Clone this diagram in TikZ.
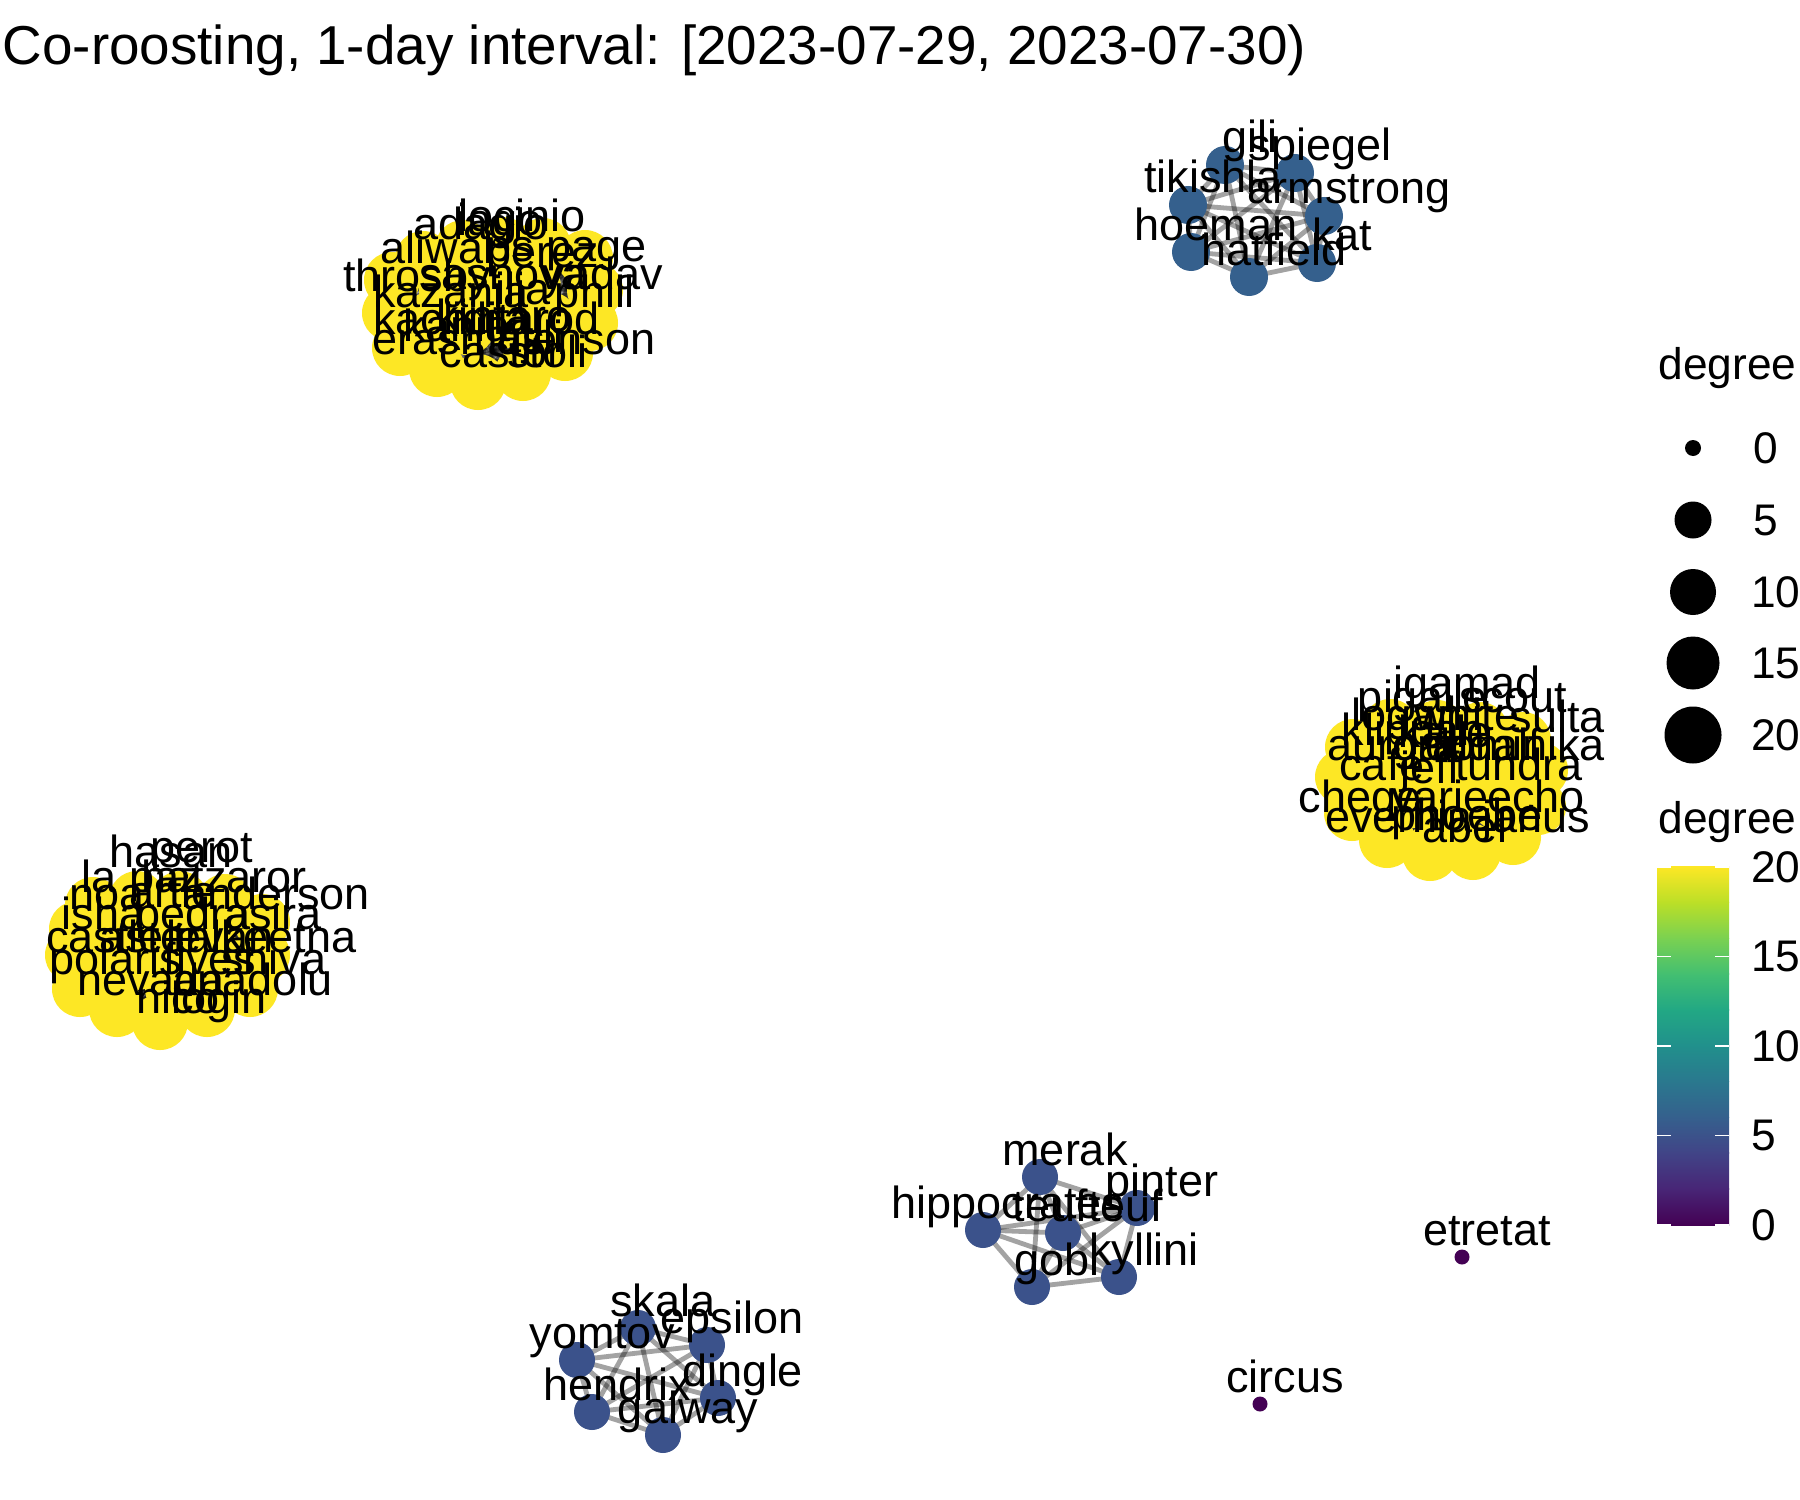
\documentclass[tikz,border=0pt]{standalone}
\usepackage{fontspec}
\setmainfont{Liberation Sans}
\usetikzlibrary{calc}
\pgfdeclarelayer{paper}
\pgfdeclarelayer{bg}
\pgfsetlayers{paper,bg,main}
\definecolor{v0}{HTML}{440154}
\definecolor{v1}{HTML}{482576}
\definecolor{v2}{HTML}{414487}
\definecolor{v3}{HTML}{35608D}
\definecolor{v4}{HTML}{2A788E}
\definecolor{v5}{HTML}{21908C}
\definecolor{v6}{HTML}{22A884}
\definecolor{v7}{HTML}{43BF71}
\definecolor{v8}{HTML}{7AD151}
\definecolor{v9}{HTML}{BBDF27}
\definecolor{v10}{HTML}{FDE725}
\definecolor{vdeg5}{HTML}{3B528B}
\newcommand\lblfont{\fontsize{12.8pt}{15pt}\selectfont}
\newcommand\legfont{\fontsize{12.6pt}{15pt}\selectfont}
\newcommand\ttlfont{\fontsize{15.6pt}{18pt}\selectfont}
\begin{document}
\begin{tikzpicture}[x=0.1mm,y=-0.1mm,
  lbl/.style={font=\lblfont, anchor=base, inner sep=0pt, outer sep=0pt},
  legtxt/.style={font=\legfont, anchor=west, inner sep=0pt, outer sep=0pt},
  ynode/.style={circle, fill=v10, minimum size=5.6mm, inner sep=0pt, outer sep=0pt},
  bnodesix/.style={circle, fill=v3, minimum size=3.8mm, inner sep=0pt, outer sep=0pt},
  bnodefive/.style={circle, fill=vdeg5, minimum size=3.6mm, inner sep=0pt, outer sep=0pt},
  pnode/.style={circle, fill=v0, minimum size=1.5mm, inner sep=0pt, outer sep=0pt},
  keydot/.style={circle, fill=black, inner sep=0pt, outer sep=0pt},
  edge/.style={draw=black, draw opacity=0.36, line width=0.48mm}]
\useasboundingbox (0,0) rectangle (1800,1500);
\begin{pgfonlayer}{paper}
\fill[white] (0,0) rectangle (1800,1500);
\end{pgfonlayer}

% title
\node[font=\ttlfont, anchor=base west, inner sep=0pt] (title) at (2,65) {Co-roosting, 1-day interval: [2023-07-29, 2023-07-30)};

% ---- yellow cluster A ----
\foreach \x/\y [count=\n] in {463/248,503/245,543/246,585/258,595/290,590/323,565/353,523/373,478/382,437/369,400/348,390/313,392/280,423/259,447/290,490/280,533/287,550/320,510/320,467/327,430/320}
  \node[ynode] (a\n) at (\x,\y) {};
% ---- yellow cluster B ----
\foreach \x/\y [count=\n] in {1390/727,1437/728,1480/730,1523/740,1540/770,1538/807,1513/837,1473/852,1430/853,1387/840,1352/813,1343/777,1353/747,1397/760,1440/760,1487/767,1500/803,1460/803,1413/800,1380/793,1447/827}
  \node[ynode] (b\n) at (\x,\y) {};
% ---- yellow cluster C ----
\foreach \x/\y [count=\n] in {93/905,137/899,180/899,225/902,262/922,262/955,250/989,207/1009,160/1022,117/1009,80/989,73/955,77/929,117/929,160/925,207/929,222/962,180/962,137/962,107/962,173/989}
  \node[ynode] (c\n) at (\x,\y) {};

% ---- blue cluster top right ----
\node[bnodesix] (t1) at (1225,165) {};
\node[bnodesix] (t2) at (1295,173) {};
\node[bnodesix] (t3) at (1188,205) {};
\node[bnodesix] (t4) at (1324,216) {};
\node[bnodesix] (t5) at (1191,252) {};
\node[bnodesix] (t6) at (1317,263) {};
\node[bnodesix] (t7) at (1249,277) {};
% ---- blue cluster bottom middle ----
\node[bnodefive] (m1) at (1040,1177) {};
\node[bnodefive] (m2) at (1137,1208) {};
\node[bnodefive] (m3) at (983,1230) {};
\node[bnodefive] (m4) at (1063,1233) {};
\node[bnodefive] (m5) at (1032,1287) {};
\node[bnodefive] (m6) at (1119,1277) {};
% ---- blue cluster bottom left ----
\node[bnodefive] (s1) at (638,1328) {};
\node[bnodefive] (s2) at (707,1345) {};
\node[bnodefive] (s3) at (577,1360) {};
\node[bnodefive] (s4) at (718,1398) {};
\node[bnodefive] (s5) at (592,1412) {};
\node[bnodefive] (s6) at (663,1435) {};
% ---- isolated ----
\node[pnode] (e1) at (1462,1257) {};
\node[pnode] (e2) at (1260,1404) {};

% ---- edges ----
\begin{pgfonlayer}{bg}
\foreach \i in {1,...,20}{
  \pgfmathtruncatemacro\k{\i+1}
  \foreach \j in {\k,...,21}{
    \draw[edge] (a\i.center) -- (a\j.center);
    \draw[edge] (b\i.center) -- (b\j.center);
    \draw[edge] (c\i.center) -- (c\j.center);
  }}
\foreach \i in {1,...,6}{
  \pgfmathtruncatemacro\k{\i+1}
  \foreach \j in {\k,...,7}{\draw[edge] (t\i.center) -- (t\j.center);}}
\foreach \i in {1,...,5}{
  \pgfmathtruncatemacro\k{\i+1}
  \foreach \j in {\k,...,6}{\draw[edge] (m\i.center) -- (m\j.center); \draw[edge] (s\i.center) -- (s\j.center);}}
\end{pgfonlayer}

% ---- labels cluster A ----
\foreach \x/\y/\t [count=\n] in {481/235/adagio,522/227/locinio,500/232/iago,437/260/aliwal,567/258/ps page,543/263/perez,417/287/throsby,503/285/sasnova,603/285/yadav,451/303/kazania,595/303/phill,523/300/ilja,451/330/kachina,504/327/kintaro,526/330/iditarod,457/337/kania,459/350/erasmus,589/350/jenson,530/348/atili,501/363/castor,547/363/stoli}
  \node[lbl] (la\n) at (\x,{\y+4}) {\t};
% ---- labels cluster B ----
\foreach \x/\y/\t [count=\n] in {1467/693/igamad,1423/707/pigalle,1513/707/scout,1407/725/logan,1467/725/white,1557/727/sulta,1413/740/klippan,1445/742/kalle,1392/755/aurora,1467/755/gandalf,1515/755/dominika,1382/775/cafe,1430/778/jeff,1519/775/tundra,1360/807/chege,1440/807/varie,1536/807/echo,1399/827/evernia,1467/825/phoebe,1536/827/janus,1465/837/abel}
  \node[lbl] (lb\n) at (\x,{\y+5}) {\t};
% ---- labels cluster C ----
\foreach \x/\y/\t [count=\n] in {171/860/hasan,202/855/perot,142/885/la paz,224/885/hatzaror,107/902/noa,173/900/artie,276/902/anderson,103/922/isha,193/922/pedra,273/922/asira,105/945/castle,150/945/aster,220/945/levan,265/945/talkeetna,116/967/polaris,210/967/fives,274/967/shiva,151/988/nevada,253/988/anadolu,178/1006/nico,219/1006/login}
  \node[lbl] (lc\n) at (\x,{\y+7}) {\t};

% ---- labels blue clusters ----
\foreach \nm/\t in {t1/gili,t2/spiegel,t3/tikishla,t4/armstrong,t5/hoeman,t6/kat,t7/hatfield,m1/merak,m2/pinter,m3/hippocrates,m4/teufteuf,m5/gobi,m6/kyllini,s1/skala,s2/epsilon,s3/yomtov,s4/dingle,s5/hendrix,s6/galway,e1/etretat,e2/circus}
  \node[lbl] (l\nm) at ([shift={(25,-12)}]\nm.center) {\t};

% ---- size legend ----
\node[font=\legfont, anchor=base west, inner sep=0pt] (sizetitle) at (1658,379) {degree};
\node[keydot, minimum size=1.6mm] (k0) at (1693,448) {};
\node[keydot, minimum size=3.7mm] (k5) at (1693,520) {};
\node[keydot, minimum size=4.6mm] (k10) at (1693,592) {};
\node[keydot, minimum size=5.3mm] (k15) at (1693,663) {};
\node[keydot, minimum size=5.7mm] (k20) at (1693,735) {};
\node[legtxt] (k0t) at (1753,448) {0};
\node[legtxt] (k5t) at (1753,520) {5};
\node[legtxt] (k10t) at (1751,592) {10};
\node[legtxt] (k15t) at (1751,663) {15};
\node[legtxt] (k20t) at (1751,735) {20};

% ---- colour bar ----
\node[font=\legfont, anchor=base west, inner sep=0pt] (coltitle) at (1658,833) {degree};
\foreach \i in {0,...,9}{
  \pgfmathtruncatemacro\ip{\i+1}
  \pgfmathsetmacro\ya{1225-35.8*\i}
  \pgfmathsetmacro\yb{1225-35.8*(\i+1)-0.5}
  \shade[top color=v\ip, bottom color=v\i] (1657,\ya) rectangle (1729,\yb);
}
\foreach \v/\yy in {0/1225,5/1135.5,10/1046,15/956.5,20/867}{
  \draw[white, line width=0.15mm] (1657,\yy) -- (1671,\yy);
  \draw[white, line width=0.15mm] (1715,\yy) -- (1729,\yy);
  \node[legtxt] (cb\v) at (1751,\yy) {\v};
}
\end{tikzpicture}
\end{document}
